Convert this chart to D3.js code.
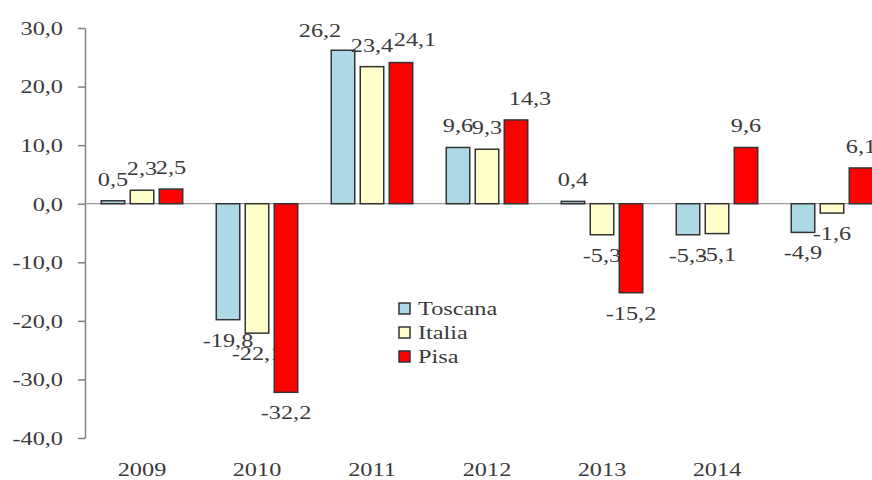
<!DOCTYPE html>
<html>
<head>
<meta charset="utf-8">
<script src="https://cdn.jsdelivr.net/npm/d3@7"></script>
<style>
  body { margin: 0; background: #fff; }
  svg { display: block; }
  text { font-family: "Liberation Serif", "Times New Roman", serif; fill: #3a3a3a; }
</style>
</head>
<body>
<svg id="chart" width="872" height="480"></svg>
<script>
// Annual change (%) by area
const years = ["2009", "2010", "2011", "2012", "2013", "2014", ""];
const seriesNames = ["Toscana", "Italia", "Pisa"];
const toscana = [0.5, -19.8, 26.2, 9.6, 0.4, -5.3, -4.9];
const italia  = [2.3, -22.1, 23.4, 9.3, -5.3, -5.1, -1.6];
const pisa    = [2.5, -32.2, 24.1, 14.3, -15.2, 9.6, 6.1];
const yTicks  = [30, 20, 10, 0, -10, -20, -30, -40];
const colors  = ["#add8e6", "#ffffcc", "#ff0000"];

const seriesValues = [toscana, italia, pisa];
const fmt = d => d.toFixed(1).replace(".", ",");
const STRETCH = "scale(1.35,1)";
const FONT = "18px";

// Hand-placed labels that would otherwise collide with their neighbours
const labelNudge = {
  "Toscana|2011": [-23, 2],
  "Pisa|2011": [14, -2],
  "Pisa|2012": [14, 0]
};

const svg = d3.select("#chart");

const y = d3.scaleLinear().domain([-40, 30]).range([438, 28]);
const x0 = d3.scaleBand().domain(years).range([84.5, 889.5])
  .paddingInner(28 / 115).paddingOuter(14 / 115);
const x1 = d3.scaleBand().domain(seriesNames).range([0, x0.bandwidth()])
  .paddingInner(0.19).paddingOuter(0.095);

// Value axis
const yAxis = svg.append("g")
  .attr("transform", "translate(85,0)")
  .call(d3.axisLeft(y).tickValues(yTicks).tickSize(7).tickSizeOuter(0).tickFormat(fmt));
yAxis.select(".domain").attr("stroke", "#808080").attr("stroke-width", 1.5);
yAxis.selectAll(".tick line").attr("stroke", "#808080").attr("stroke-width", 1.5);
yAxis.selectAll(".tick text")
  .attr("x", null).attr("dy", "0.35em")
  .attr("transform", "translate(-22,0) " + STRETCH)
  .style("font-size", FONT).attr("fill", "#3a3a3a");

// Zero baseline
svg.append("line")
  .attr("x1", 85).attr("x2", 872)
  .attr("y1", y(0)).attr("y2", y(0))
  .attr("stroke", "#999").attr("stroke-width", 1.2);

// Category axis (labels only)
const xAxis = svg.append("g")
  .attr("transform", "translate(0,476)")
  .call(d3.axisBottom(x0).tickSize(0));
xAxis.select(".domain").remove();
xAxis.selectAll(".tick text")
  .attr("y", 0).attr("dy", 0)
  .attr("transform", STRETCH)
  .style("font-size", FONT).attr("fill", "#3a3a3a");

// Bars and value labels, series by series
seriesNames.forEach((name, si) => {
  const rows = years.map((yr, i) => ({ yr, v: seriesValues[si][i] }));
  const g = svg.append("g");
  g.selectAll("rect").data(rows).join("rect")
    .attr("x", d => x0(d.yr) + x1(name))
    .attr("width", x1.bandwidth())
    .attr("y", d => y(Math.max(0, d.v)))
    .attr("height", d => Math.abs(y(d.v) - y(0)))
    .attr("fill", colors[si])
    .attr("stroke", "#333")
    .attr("stroke-width", 1.5);
  g.selectAll("text").data(rows).join("text")
    .attr("text-anchor", "middle")
    .style("font-size", FONT)
    .attr("transform", d => {
      const [dx, dy] = labelNudge[name + "|" + d.yr] || [0, 0];
      const cx = x0(d.yr) + x1(name) + x1.bandwidth() / 2 + dx;
      const cy = (d.v >= 0 ? y(d.v) - 15 : y(d.v) + 27) + dy;
      return `translate(${cx},${cy}) ${STRETCH}`;
    })
    .text(d => fmt(d.v));
});

// Legend
const legend = svg.append("g").attr("transform", "translate(399,303)");
seriesNames.forEach((name, si) => {
  const row = legend.append("g").attr("transform", `translate(0,${si * 24})`);
  row.append("rect")
    .attr("width", 11).attr("height", 11)
    .attr("fill", colors[si]).attr("stroke", "#333").attr("stroke-width", 1.5);
  row.append("text")
    .attr("transform", `translate(19,12) ${STRETCH}`)
    .style("font-size", FONT)
    .text(name);
});
</script>
</body>
</html>
